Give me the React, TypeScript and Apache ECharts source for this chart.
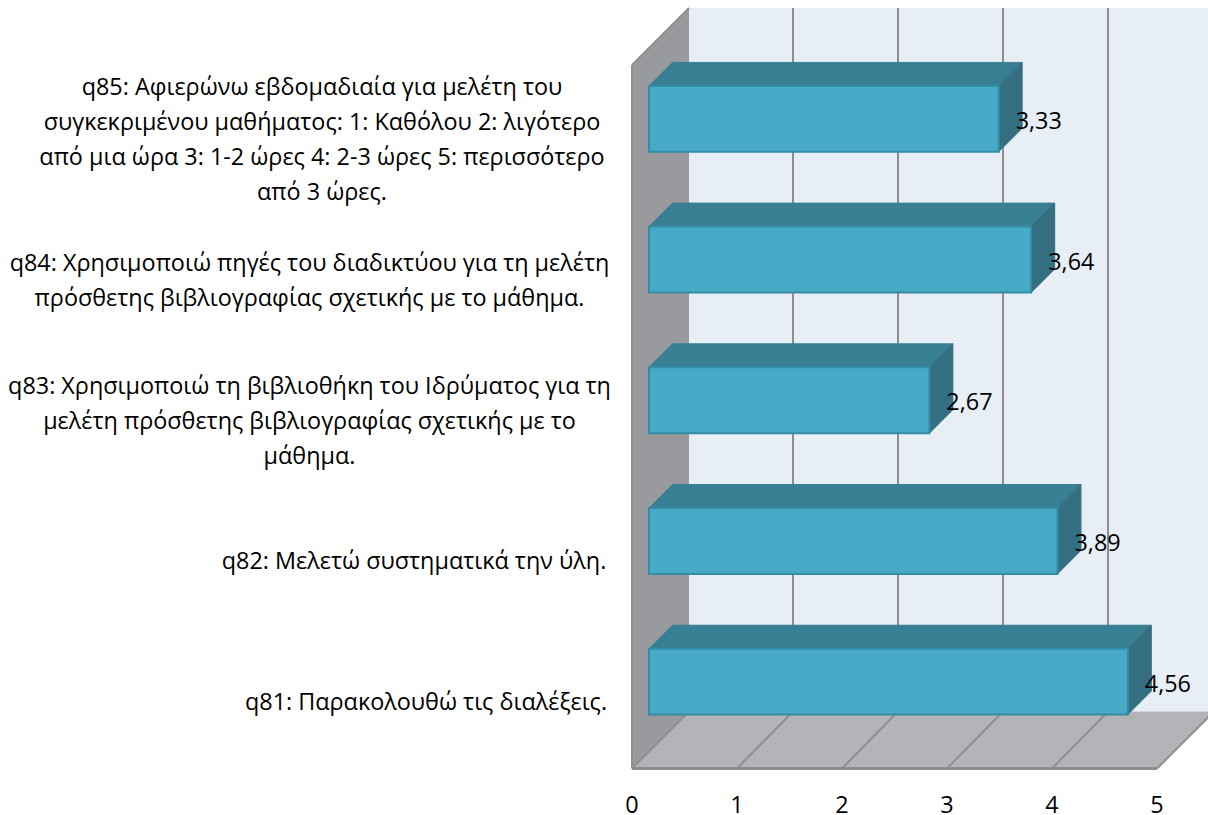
import React, { useEffect, useRef } from "react";
import * as echarts from "echarts";

const categories = ["q81", "q82", "q83", "q84", "q85"];
const values = [4.56, 3.89, 2.67, 3.64, 3.33];
const labelLines = [
  ["q81: Παρακολουθώ τις διαλέξεις."],
  ["q82: Μελετώ συστηματικά την ύλη."],
  [
    "q83: Χρησιμοποιώ τη βιβλιοθήκη του Ιδρύματος για τη",
    "μελέτη πρόσθετης βιβλιογραφίας σχετικής με το",
    "μάθημα.",
  ],
  [
    "q84: Χρησιμοποιώ πηγές του διαδικτύου για τη μελέτη",
    "πρόσθετης βιβλιογραφίας σχετικής με το μάθημα.",
  ],
  [
    "q85: Αφιερώνω εβδομαδιαία για μελέτη του",
    "συγκεκριμένου μαθήματος: 1: Καθόλου 2: λιγότερο",
    "από μια ώρα 3: 1-2 ώρες 4: 2-3 ώρες 5: περισσότερο",
    "από 3 ώρες.",
  ],
];
const labelBlockWidths = [372, 396, 605, 605, 580];
const ticks = [0, 1, 2, 3, 4, 5];

const FONT = "'Open Sans', sans-serif";
const FONT_SIZE = 23.4;
const DEPTH = 57;
const DEPTH_Y = 57;
const BAR_SHIFT_X = 17;
const BAR_SHIFT_Y = 16.5;
const BAR_DEPTH = 23.5;
const BAR_RATIO = 66 / 141;

const rich: Record<string, any> = {};
labelBlockWidths.forEach((w, i) => {
  rich["c" + i] = { width: w, align: "center", fontFamily: FONT, fontSize: FONT_SIZE, lineHeight: 35, color: "#000" };
});

function renderFrame(_params: any, api: any) {
  const band = api.size([0, 1])[1];
  const [x0, yLow] = api.coord([0, 0]);
  const [x5, yHigh] = api.coord([5, 4]);
  const yBottom = yLow + band / 2;
  const yTop = yHigh - band / 2;
  const shape = (points: number[][], fill: string) => ({
    type: "polygon",
    shape: { points },
    style: { fill, stroke: "none" },
  });
  const line = (x1: number, y1: number, x2: number, y2: number, stroke = "#8e8e8e", lineWidth = 2) => ({
    type: "line",
    shape: { x1, y1, x2, y2 },
    style: { stroke, lineWidth },
  });
  const children: any[] = [
    shape(
      [
        [x0 + DEPTH, yTop - DEPTH_Y],
        [x5 + DEPTH, yTop - DEPTH_Y],
        [x5 + DEPTH, yBottom - DEPTH_Y],
        [x0 + DEPTH, yBottom - DEPTH_Y],
      ],
      "#e8eef6"
    ),
    shape(
      [
        [x0, yTop],
        [x0 + DEPTH, yTop - DEPTH_Y],
        [x0 + DEPTH, yBottom - DEPTH_Y],
        [x0, yBottom],
      ],
      "#989a9e"
    ),
    shape(
      [
        [x0, yBottom],
        [x0 + DEPTH, yBottom - DEPTH_Y],
        [x5 + DEPTH, yBottom - DEPTH_Y],
        [x5, yBottom],
      ],
      "#b2b4b7"
    ),
  ];
  ticks.slice(1, 5).forEach((t) => {
    const [x] = api.coord([t, 0]);
    children.push(line(x + DEPTH - 1, yTop - DEPTH_Y, x + DEPTH - 1, yBottom - DEPTH_Y));
    children.push(line(x, yBottom, x + DEPTH - 1, yBottom - DEPTH_Y));
  });
  children.push(line(x0, yTop, x0 + DEPTH, yTop - DEPTH_Y));
  children.push(line(x0, yTop, x0, yBottom));
  children.push(line(x0, yBottom, x0 + DEPTH, yBottom - DEPTH_Y));
  children.push(line(x0, yBottom, x5, yBottom, "#8e8e8e", 3));
  children.push(line(x5, yBottom, x5 + DEPTH, yBottom - DEPTH_Y));
  return { type: "group", children };
}

function renderBar(_params: any, api: any) {
  const value = api.value(0);
  const cat = api.value(1);
  const [x0, yc] = api.coord([0, cat]);
  const [x1] = api.coord([value, cat]);
  const band = api.size([0, 1])[1];
  const h = band * BAR_RATIO;
  const left = x0 + BAR_SHIFT_X;
  const right = x1 + BAR_SHIFT_X;
  const top = yc - BAR_SHIFT_Y - h / 2;
  const bottom = top + h;
  const d = BAR_DEPTH;
  const poly = (points: number[][], fill: string) => ({
    type: "polygon",
    shape: { points },
    style: { fill, stroke: fill, lineWidth: 1 },
  });
  return {
    type: "group",
    children: [
      poly([[left, top], [left + d, top - d], [right + d, top - d], [right, top]], "#387f94"),
      poly([[right, top], [right + d, top - d], [right + d, bottom - d], [right, bottom]], "#336f80"),
      {
        type: "rect",
        shape: { x: left, y: top, width: right - left, height: h },
        style: { fill: "#47abc7", stroke: "#348ca5", lineWidth: 2 },
      },
      {
        type: "text",
        x: right + 17,
        y: top + h / 2 + 1,
        style: {
          text: value.toFixed(2).replace(".", ","),
          fontFamily: FONT,
          fontSize: FONT_SIZE,
          fill: "#000",
          align: "left",
          verticalAlign: "middle",
        },
      },
    ],
  };
}

export default function App() {
  const ref = useRef<HTMLDivElement>(null);
  useEffect(() => {
    const chart = echarts.init(ref.current!, undefined, { renderer: "svg" });
    chart.setOption({
      animation: false,
      backgroundColor: "#fff",
      grid: { left: 632, top: 65, width: 525, height: 706, containLabel: false },
      xAxis: {
        type: "value",
        min: 0,
        max: 5,
        interval: 1,
        axisLine: { show: false },
        axisTick: { show: false },
        splitLine: { show: false },
        axisLabel: { fontFamily: FONT, fontSize: FONT_SIZE, lineHeight: 20, color: "#000", margin: 25, verticalAlign: "top" },
      },
      yAxis: {
        type: "category",
        data: categories,
        axisLine: { show: false },
        axisTick: { show: false },
        splitLine: { show: false },
        axisLabel: {
          interval: 0,
          margin: 20,
          align: "right",
          padding: [6, 0, 0, 0],
          rich,
          formatter: (_v: string, i: number) =>
            labelLines[i].map((l) => `{c${i}|${l}}`).join("\n"),
        },
      },
      series: [
        {
          type: "custom",
          coordinateSystem: "cartesian2d",
          clip: false,
          silent: true,
          z: 1,
          data: [[0, 0]],
          renderItem: renderFrame,
        },
        {
          type: "custom",
          coordinateSystem: "cartesian2d",
          clip: false,
          silent: true,
          z: 2,
          data: values.map((v, i) => [v, i]),
          encode: { x: 0, y: 1 },
          renderItem: renderBar,
        },
      ],
    });
    return () => chart.dispose();
  }, []);
  return <div ref={ref} style={{ position: "fixed", left: 0, top: 0, width: 1208, height: 815 }} />;
}
